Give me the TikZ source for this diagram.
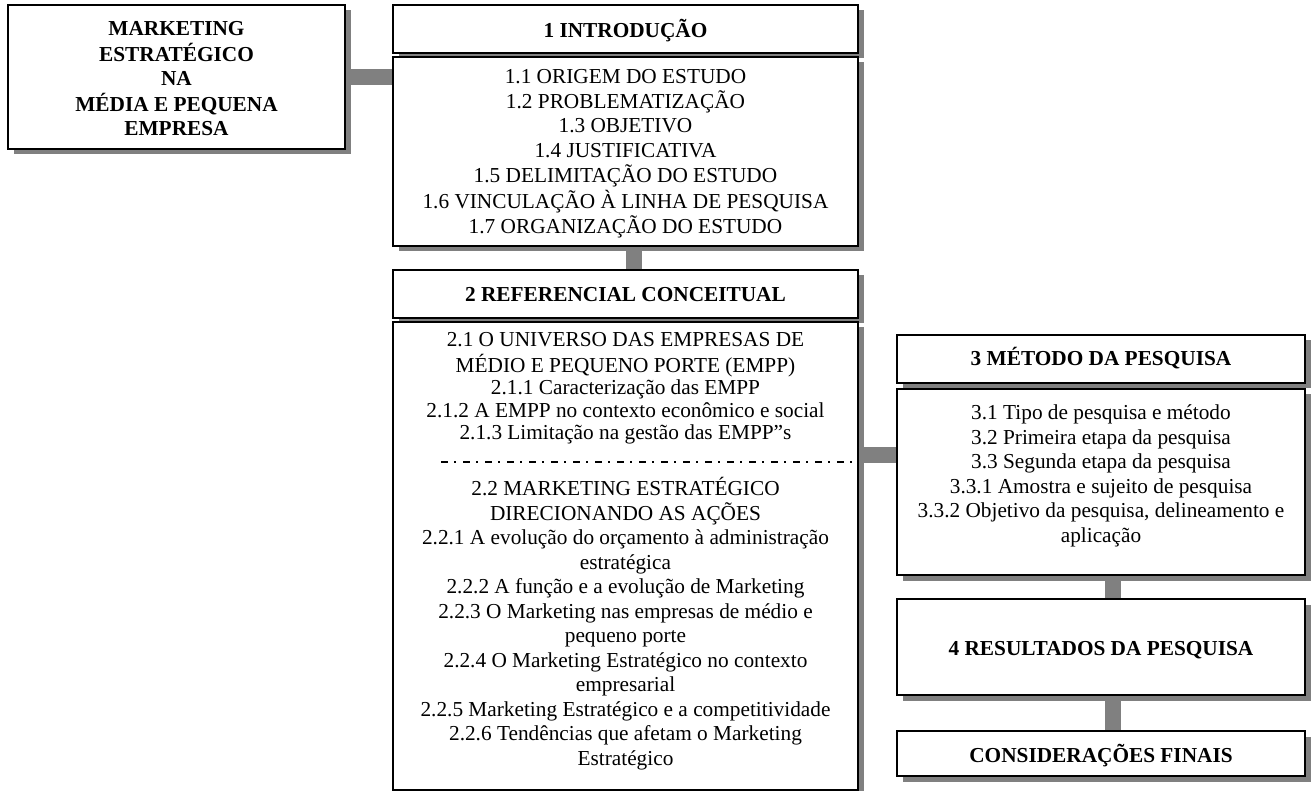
\documentclass[tikz,border=0pt]{standalone}
\usepackage{fontspec}
\setmainfont{Liberation Serif}
\usetikzlibrary{shadows}
\definecolor{shadowgray}{HTML}{808080}
\newcommand{\lines}[1]{\begin{tabular}[t]{@{}c@{}}#1\end{tabular}}
\begin{document}
\begin{tikzpicture}[x=1pt,y=-1pt,
  box/.style={draw=black, line width=1.5pt, fill=white, inner sep=0pt,
    drop shadow={shadow xshift=5.5pt, shadow yshift=-5.5pt, fill=shadowgray, opacity=1}},
  bar/.style={draw=shadowgray, line width=16pt},
  txt/.style={inner sep=0pt, anchor=base, font=\fontsize{21.3}{24.5}\selectfont},
  tighttxt/.style={inner sep=0pt, anchor=base, font=\fontsize{21.3}{22.5}\selectfont},
  headtxt/.style={inner sep=0pt, anchor=base, font=\fontsize{21.3}{24.3}\selectfont\bfseries},
  sep/.style={draw=black, line width=1.8pt, dash pattern=on 7pt off 6pt on 2pt off 7pt}
]
\useasboundingbox (0,0) rectangle (1315,791);

% boxes
\node[box, minimum width=337pt, minimum height=144pt] (mk) at (176.5,77) {};
\node[box, minimum width=465pt, minimum height=48pt] (b1h) at (625.5,29) {};
\node[box, minimum width=465pt, minimum height=189pt] (b1b) at (625.5,151.5) {};
\node[box, minimum width=465pt, minimum height=48pt] (b2h) at (625.5,294) {};
\node[box, minimum width=465pt, minimum height=468pt] (b2b) at (625.5,556) {};
\node[box, minimum width=408pt, minimum height=48pt] (b3h) at (1101,359) {};
\node[box, minimum width=408pt, minimum height=186pt] (b3b) at (1101,482) {};
\node[box, minimum width=408pt, minimum height=96pt] (b4) at (1101,647) {};
\node[box, minimum width=408pt, minimum height=45pt] (b5) at (1101,753.5) {};

% connectors
\coordinate (j1) at ([yshift=101pt]b2b.east);
\draw[bar] (mk.east) -- (mk.east -| b1b.west);
\draw[bar] ([xshift=8pt]b1b.south) -- ([xshift=8pt]b2h.north);
\draw[bar] (j1) -- (j1 -| b3b.west);
\draw[bar] ([xshift=12pt]b3b.south) -- ([xshift=12pt]b4.north);
\draw[bar] ([xshift=12pt]b4.south) -- ([xshift=12pt]b5.north);

% separator in box 2
\coordinate (s1) at (441,462);
\coordinate (s2) at (854,462);
\draw[sep] (s1) -- (s2);

% texts
\node[headtxt] (tmk) at (176.5,36) {\lines{MARKETING\\ESTRATÉGICO\\NA\\MÉDIA E PEQUENA\\EMPRESA}};
\node[headtxt] (t1h) at (625.5,38) {1 INTRODUÇÃO};
\node[txt] (t1b) at (625.5,83.3) {\lines{1.1 ORIGEM DO ESTUDO\\1.2 PROBLEMATIZAÇÃO\\1.3 OBJETIVO\\1.4 JUSTIFICATIVA\\1.5 DELIMITAÇÃO DO ESTUDO\\1.6 VINCULAÇÃO À LINHA DE PESQUISA\\1.7 ORGANIZAÇÃO DO ESTUDO}};
\node[headtxt] (t2h) at (625.5,302) {2 REFERENCIAL CONCEITUAL};
\node[tighttxt] (t2a) at (625.5,347) {\lines{2.1 O UNIVERSO DAS EMPRESAS DE\\MÉDIO E PEQUENO PORTE (EMPP)\\2.1.1 Caracterização das EMPP\\2.1.2 A EMPP no contexto econômico e social\\2.1.3 Limitação na gestão das EMPP”s}};
\node[txt] (t2b) at (625.5,495) {\lines{2.2 MARKETING ESTRATÉGICO\\DIRECIONANDO AS AÇÕES\\2.2.1 A evolução do orçamento à administração\\estratégica\\2.2.2 A função e a evolução de Marketing\\2.2.3 O Marketing nas empresas de médio e\\pequeno porte\\2.2.4 O Marketing Estratégico no contexto\\empresarial\\2.2.5 Marketing Estratégico e a competitividade\\2.2.6 Tendências que afetam o Marketing\\Estratégico}};
\node[headtxt] (t3h) at (1101,366) {3 MÉTODO DA PESQUISA};
\node[txt] (t3b) at (1101,420) {\lines{3.1 Tipo de pesquisa e método\\3.2 Primeira etapa da pesquisa\\3.3 Segunda etapa da pesquisa\\3.3.1 Amostra e sujeito de pesquisa\\3.3.2 Objetivo da pesquisa, delineamento e\\aplicação}};
\node[headtxt] (t4) at (1101,655) {4 RESULTADOS DA PESQUISA};
\node[headtxt] (t5) at (1101,762) {CONSIDERAÇÕES FINAIS};
\end{tikzpicture}
\end{document}
